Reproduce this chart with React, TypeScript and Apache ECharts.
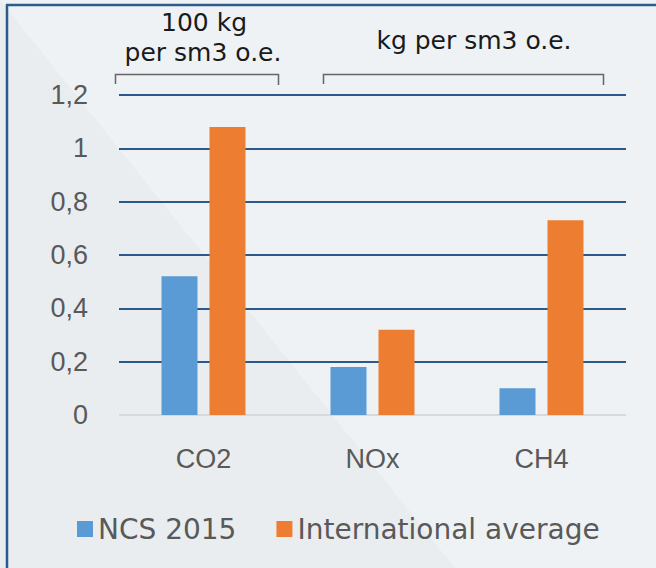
import React, { useEffect, useRef } from "react";
import * as echarts from "echarts";

const categories = ["CO2", "NOx", "CH4"];
const seriesNames = ["NCS 2015", "International average"];
const ncs2015 = [0.52, 0.18, 0.1];
const internationalAverage = [1.08, 0.32, 0.73];
const yTicks = [0, 0.2, 0.4, 0.6, 0.8, 1, 1.2];
const annotationLeft = ["100 kg", "per sm3 o.e."];
const annotationRight = "kg per sm3 o.e.";

export default function App() {
  const ref = useRef<HTMLDivElement>(null);
  useEffect(() => {
    if (!ref.current) return;
    const chart = echarts.init(ref.current, undefined, { renderer: "svg" });
    const gridBlue = "#2b5a8a";
    const labelColor = "#595959";
    const splitColors = yTicks.map((_, i) => (i === 0 ? "#d9d9d9" : gridBlue));
    const bracketColor = "#666666";
    chart.setOption({
      animation: false,
      backgroundColor: "#eef2f4",
      graphic: [
        {
          type: "polygon",
          z: -10,
          shape: { points: [[0, 0], [455, 568], [0, 568]] },
          style: { fill: "#e9edef" },
        },
        {
          type: "line",
          shape: { x1: 6, y1: 5, x2: 656, y2: 5 },
          style: { stroke: "#2f5b8c", lineWidth: 2.5 },
        },
        {
          type: "line",
          shape: { x1: 7, y1: 4, x2: 7, y2: 568 },
          style: { stroke: "#2f5b8c", lineWidth: 2.5 },
        },
        {
          type: "polyline",
          shape: { points: [[115.5, 84], [115.5, 74.5], [278.5, 74.5], [278.5, 85]] },
          style: { stroke: bracketColor, lineWidth: 1.5, fill: "none" },
        },
        {
          type: "polyline",
          shape: { points: [[323.5, 84], [323.5, 74.5], [603.5, 74.5], [603.5, 85]] },
          style: { stroke: bracketColor, lineWidth: 1.5, fill: "none" },
        },
        {
          type: "text",
          x: 204,
          y: 22,
          style: {
            text: annotationLeft[0],
            font: "25px 'DejaVu Sans'",
            fill: "#1a1a1a",
            align: "center",
            verticalAlign: "middle",
          },
        },
        {
          type: "text",
          x: 203,
          y: 52,
          style: {
            text: annotationLeft[1],
            font: "25px 'DejaVu Sans'",
            fill: "#1a1a1a",
            align: "center",
            verticalAlign: "middle",
          },
        },
        {
          type: "text",
          x: 474,
          y: 40,
          style: {
            text: annotationRight,
            font: "25px 'DejaVu Sans'",
            fill: "#1a1a1a",
            align: "center",
            verticalAlign: "middle",
          },
        },
      ],
      legend: {
        data: seriesNames,
        left: 77,
        top: 515,
        padding: 0,
        itemWidth: 16,
        itemHeight: 16,
        itemGap: 40,
        icon: "rect",
        textStyle: { fontFamily: "DejaVu Sans", fontSize: 28, color: labelColor },
      },
      grid: { left: 119, right: 30, top: 95, bottom: 153, containLabel: false },
      xAxis: {
        type: "category",
        data: categories,
        axisLine: { show: false },
        axisTick: { show: false },
        axisLabel: {
          margin: 30,
          fontFamily: "Liberation Sans",
          fontSize: 27,
          color: labelColor,
        },
      },
      yAxis: {
        type: "value",
        min: 0,
        max: 1.2,
        interval: 0.2,
        axisLine: { show: false },
        axisTick: { show: false },
        splitLine: { lineStyle: { color: splitColors, width: 2 } },
        axisLabel: {
          margin: 31,
          fontFamily: "Liberation Sans",
          fontSize: 27,
          color: labelColor,
          formatter: (v: number) => String(+v.toFixed(1)).replace(".", ","),
        },
      },
      series: [
        {
          name: seriesNames[0],
          type: "bar",
          data: ncs2015,
          barWidth: 36,
          barGap: "33.3%",
          itemStyle: { color: "#5b9bd5" },
        },
        {
          name: seriesNames[1],
          type: "bar",
          data: internationalAverage,
          barWidth: 36,
          barGap: "33.3%",
          itemStyle: { color: "#ed7d31" },
        },
      ],
    });
    return () => chart.dispose();
  }, []);
  return (
    <div
      ref={ref}
      style={{ position: "absolute", left: 0, top: 0, width: 656, height: 568 }}
    />
  );
}
